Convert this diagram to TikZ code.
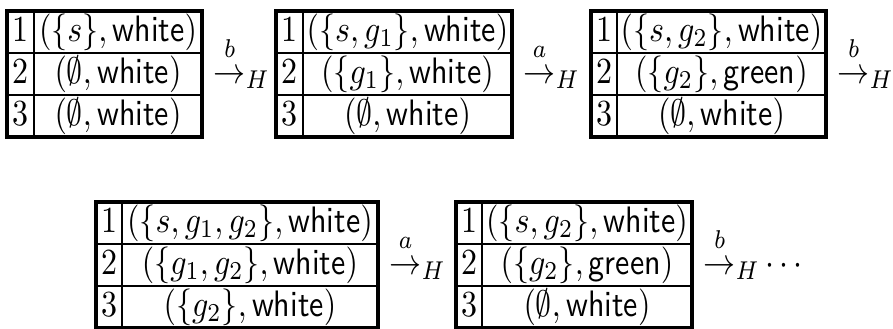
\documentclass[tikz,border=0pt]{standalone}
\usetikzlibrary{positioning}

\begin{document}
\begin{tikzpicture}[x=0.3125pt,y=-0.2717pt,yscale=1.15,
    every node/.append style={transform shape},
    cell/.style={inner sep=0pt,text height=7.5pt,text depth=2.5pt},
    frame/.style={line width=1pt},
    rule/.style={line width=0.8pt}]
  \useasboundingbox (0,0) rectangle (893,329);

  % one table per state, with the step that follows it
  \foreach \tb/\xl/\xm/\xr/\yt/\ra/\rb/\rc/\lbl/\tail in {
      1/7/34/202/11/{(\{s\},\textsf{white})}/{(\emptyset,\textsf{white})}/{(\emptyset,\textsf{white})}/b/{},
      2/276/303/512/11/{(\{s,g_1\},\textsf{white})}/{(\{g_1\},\textsf{white})}/{(\emptyset,\textsf{white})}/a/{},
      3/591/617/826/11/{(\{s,g_2\},\textsf{white})}/{(\{g_2\},\textsf{green})}/{(\emptyset,\textsf{white})}/b/{},
      4/96/122/378/202/{(\{s,g_1,g_2\},\textsf{white})}/{(\{g_1,g_2\},\textsf{white})}/{(\{g_2\},\textsf{white})}/a/{},
      5/456/482/692/202/{(\{s,g_2\},\textsf{white})}/{(\{g_2\},\textsf{green})}/{(\emptyset,\textsf{white})}/b/{\cdots}}
  {
    \draw[frame] (\xl,\yt) rectangle (\xr,\yt+126);
    \draw[rule] (\xm,\yt) -- (\xm,\yt+126);
    \draw[rule] (\xl,\yt+42) -- (\xr,\yt+42);
    \draw[rule] (\xl,\yt+84) -- (\xr,\yt+84);
    \node[cell] (t\tb-n1) at ({(\xl+\xm)/2},\yt+21) {1};
    \node[cell] (t\tb-n2) at ({(\xl+\xm)/2},\yt+63) {2};
    \node[cell] (t\tb-n3) at ({(\xl+\xm)/2},\yt+105) {3};
    \node[cell] (t\tb-r1) at ({(\xm+\xr)/2},\yt+21) {$\ra$};
    \node[cell] (t\tb-r2) at ({(\xm+\xr)/2},\yt+63) {$\rb$};
    \node[cell] (t\tb-r3) at ({(\xm+\xr)/2},\yt+105) {$\rc$};
    \node[cell,anchor=west] (arr\tb) at (\xr+11,\yt+63)
      {${\mathop{\rightarrow}\limits^{\raisebox{1.3pt}{$\scriptstyle\lbl$}}}_H\tail$};
  }
\end{tikzpicture}
\end{document}
